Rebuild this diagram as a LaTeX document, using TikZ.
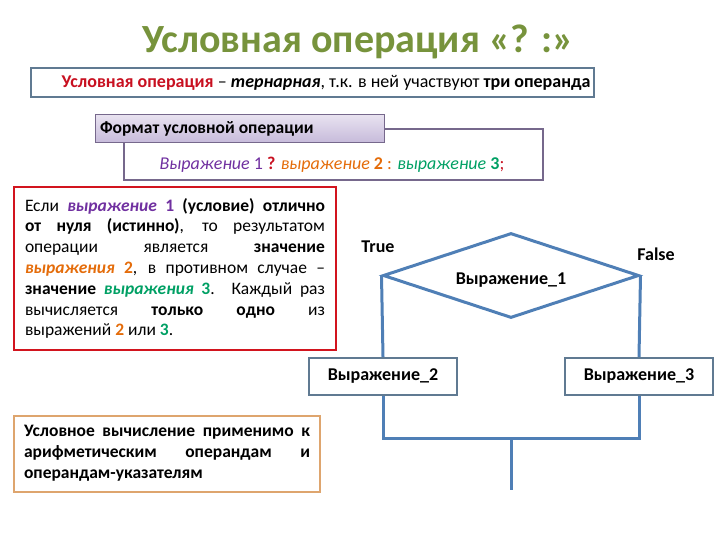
\documentclass[tikz,border=0pt]{standalone}
\usepackage{fontspec}
\setmainfont{Carlito}
\usepackage{tikz}
\usetikzlibrary{positioning,shapes.geometric}

\definecolor{titlegreen}{RGB}{119,147,60}
\definecolor{frameblue}{RGB}{96,122,146}
\definecolor{lineblue}{RGB}{79,127,182}
\definecolor{darkred}{RGB}{200,16,32}
\definecolor{boxred}{RGB}{210,20,30}
\definecolor{boxorange}{RGB}{222,165,110}
\definecolor{lavtop}{RGB}{232,226,240}
\definecolor{lavbot}{RGB}{198,186,218}
\definecolor{lavframe}{RGB}{118,104,140}
\definecolor{expurple}{RGB}{112,48,160}
\definecolor{exorange}{RGB}{228,108,10}
\definecolor{exgreen}{RGB}{0,160,100}

\newcommand{\eone}[1]{\textcolor{expurple}{#1}}
\newcommand{\etwo}[1]{\textcolor{exorange}{#1}}
\newcommand{\ethree}[1]{\textcolor{exgreen}{#1}}

\tikzset{
  flowbox/.style={draw=frameblue,line width=2pt,minimum width=148pt,minimum height=37pt,
    inner sep=0pt,font=\fontsize{18}{21}\selectfont\bfseries},
  flowline/.style={draw=lineblue,line width=3pt},
  flowlabel/.style={font=\fontsize{18}{21}\selectfont\bfseries},
  textbox/.style={line width=2pt,inner sep=0pt,align=justify}
}

\begin{document}
\begin{tikzpicture}[x=1pt,y=-1pt]
\useasboundingbox (0,0) rectangle (720,540);

\node[text=titlegreen,font=\fontsize{40}{46}\selectfont\bfseries] (title) at (358,42) {Условная операция «? :»};

\node[draw=frameblue,line width=1.5pt,minimum width=563pt,minimum height=29pt,inner sep=0pt,
  font=\fontsize{18}{21}\selectfont] (def) at (312.5,82.5)
  {\hspace*{27pt}\textcolor{darkred}{\bfseries Условная операция} – \textbf{\textit{тернарная}}, т.к. в ней участвуют \textbf{три операнда}};

% format of the operation
\node[draw=lavframe,line width=1pt,top color=lavtop,bottom color=lavbot,minimum width=289pt,
  minimum height=28pt,inner sep=0pt,font=\fontsize{17.5}{20}\selectfont\bfseries] (fmt) at (239.5,129)
  {\makebox[279pt][l]{Формат условной операции}};
\coordinate (fr) at (543,180);
\coordinate (fl) at (124,180);
\draw[lavframe,line width=2pt] (fmt.east) -| (fr) -- (fl) -- (fl |- fmt.south);
\node[font=\fontsize{18}{21}\selectfont] (syntax) at (332,165)
  {\eone{\textit{Выражение} 1} \textcolor{darkred}{\textbf{?}} \etwo{\textit{выражение} \textbf{2} :} \ethree{\textit{выражение} \textbf{3}}\textcolor{darkred}{;}};

% explanation
\node[textbox,draw=boxred,minimum width=322pt,minimum height=163pt,text width=300pt,
  font=\fontsize{17.5}{20.8}\selectfont] (note) at (175,268.5)
  {\hyphenpenalty=10000
  Если \eone{\textbf{\textit{выражение} 1}} \textbf{(условие) отлично}\linebreak
  \textbf{от нуля (истинно)}, то результатом\linebreak
  операции является \textbf{значение}\linebreak
  \etwo{\textbf{\textit{выражения} 2}}, в противном случае –\linebreak
  \textbf{значение} \ethree{\textbf{\textit{выражения} 3}}. Каждый раз\linebreak
  вычисляется \textbf{только одно} из\linebreak
  выражений \etwo{\textbf{2}} или \ethree{\textbf{3}}.};

\node[textbox,draw=boxorange,minimum width=306pt,minimum height=76pt,text width=286pt,
  font=\fontsize{17.5}{21}\selectfont\bfseries] (cond) at (167,453.5)
  {\hyphenpenalty=10000
  Условное вычисление применимо к\linebreak
  арифметическим операндам и\linebreak
  операндам-указателям};

% flowchart
\node[diamond,aspect=3,draw=lineblue,line width=3pt,minimum width=256pt,minimum height=85pt,
  inner sep=0pt,text height=20pt,text depth=2pt,flowlabel] (cond1) at (511,275.5) {Выражение\_1};
\node[flowlabel] (true) at (378,247) {True};
\node[flowlabel] (false) at (656,254) {False};
\node[flowbox] (expr2) at (383,376.5) {Выражение\_2};
\node[flowbox] (expr3) at (639,376.5) {Выражение\_3};
\coordinate (join) at (511,438);
\coordinate (out) at (511,490);

\path[flowline] (cond1.west) -- (expr2.north);
\path[flowline] (cond1.east) -- (expr3.north);
\path[flowline] (expr2.south) |- (join) -| (expr3.south);
\path[flowline] (join) -- (out);

\end{tikzpicture}
\end{document}
